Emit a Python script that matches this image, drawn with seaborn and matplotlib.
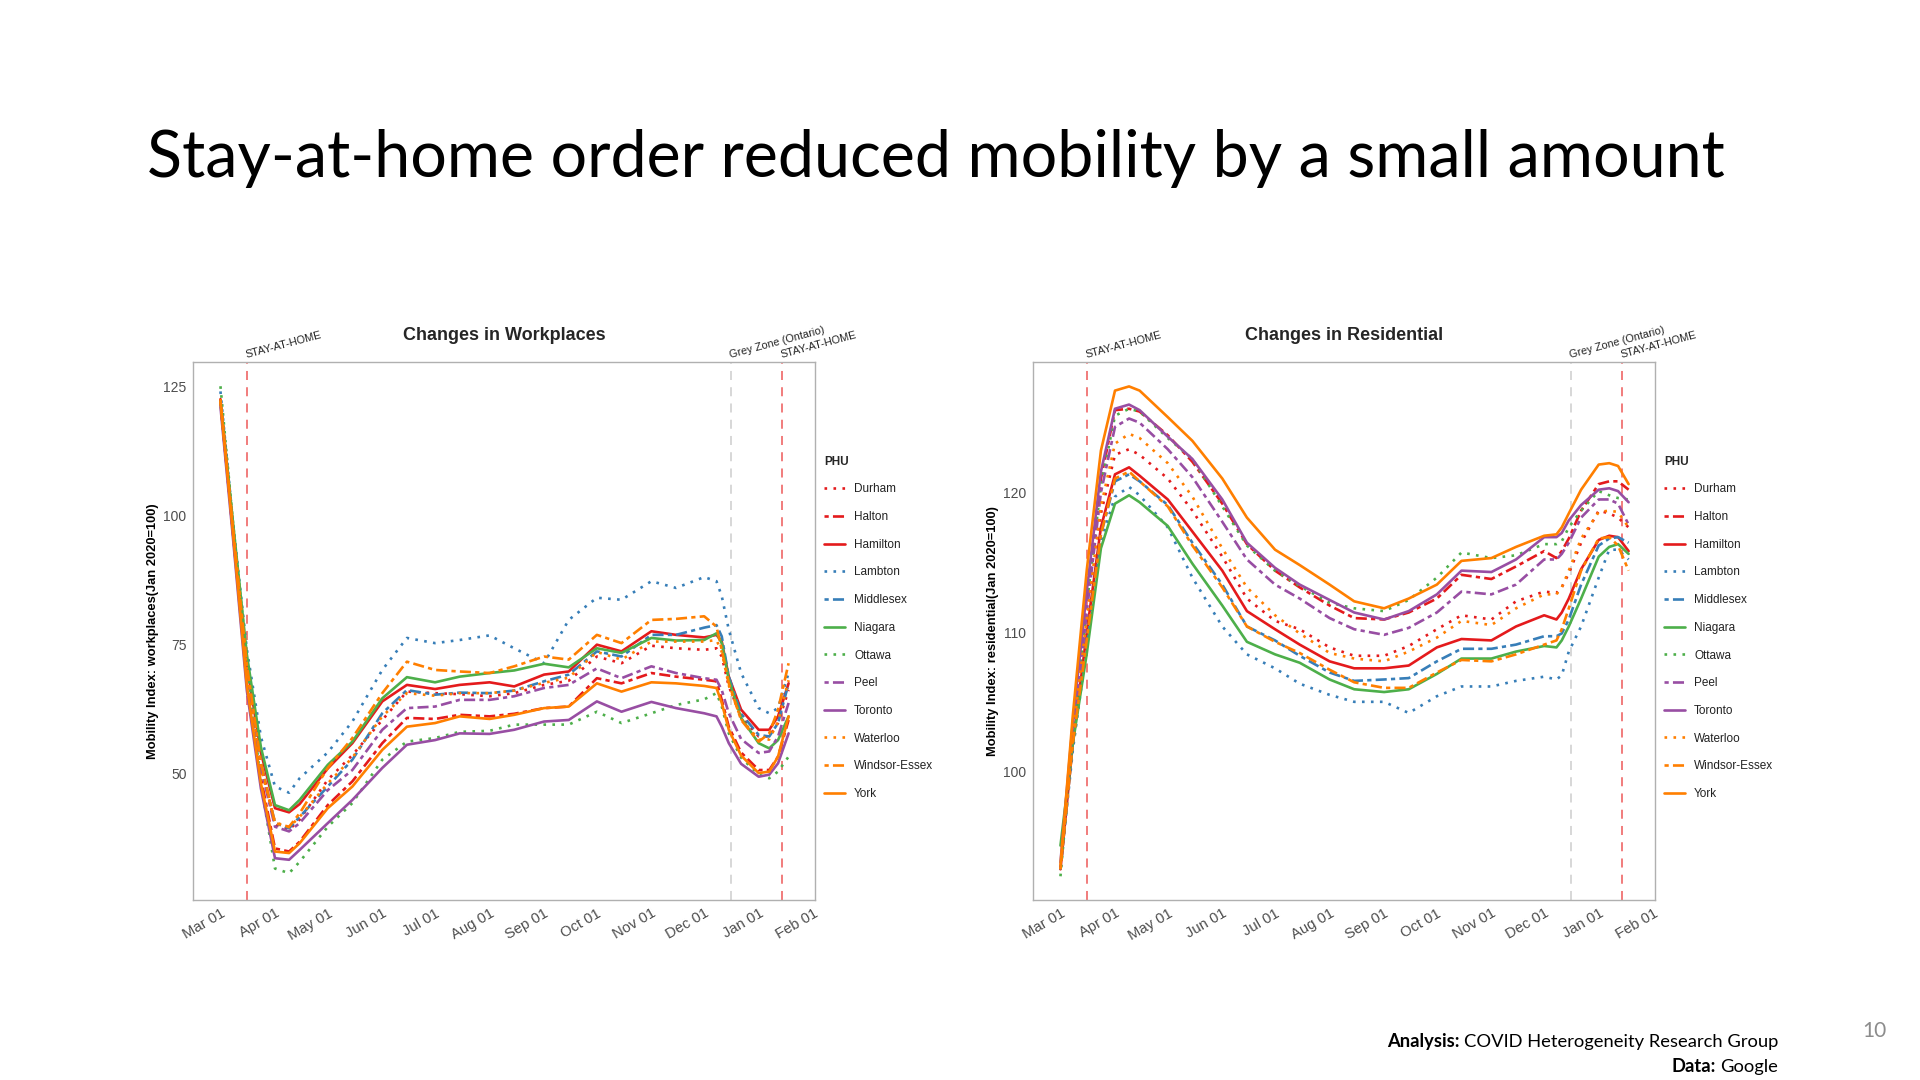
import matplotlib
matplotlib.use("Agg")
import matplotlib.pyplot as plt
import matplotlib.dates as mdates
import pandas as pd
import seaborn as sns

# ---------------- data ----------------
dates = ["2020-03-01", "2020-03-08", "2020-03-16", "2020-03-24", "2020-04-01", "2020-04-09",
         "2020-04-15", "2020-05-01", "2020-05-15", "2020-06-01", "2020-06-15", "2020-07-01",
         "2020-07-15", "2020-08-01", "2020-08-15", "2020-09-01", "2020-09-15", "2020-10-01",
         "2020-10-15", "2020-11-01", "2020-11-15", "2020-12-01", "2020-12-08", "2020-12-11",
         "2020-12-15", "2020-12-22", "2021-01-01", "2021-01-07", "2021-01-12", "2021-01-18"]

phus = ["Durham", "Halton", "Hamilton", "Lambton", "Middlesex", "Niagara", "Ottawa",
        "Peel", "Toronto", "Waterloo", "Windsor-Essex", "York"]

# Workplaces mobility index
wp_durham   = [122.5, 98, 70, 52, 40.0, 39.0, 41.0, 48.7, 53.5, 60.3, 65.8, 65.5, 65.3, 64.9, 65.5, 67.1, 67.9, 72.6, 71.3, 74.7, 74.2, 73.9, 74.2, 72.6, 66.8, 61.0, 57.1, 57.1, 59.7, 66.1]
wp_halton   = [122.0, 97, 68, 49, 35.4, 34.8, 36.7, 43.8, 48.4, 55.8, 60.7, 60.5, 61.3, 61.0, 61.5, 62.6, 62.9, 68.4, 67.4, 69.4, 68.7, 68.1, 67.8, 64.2, 59.0, 54.0, 50.6, 50.6, 53.2, 60.3]
wp_hamilton = [122.5, 98, 71, 54, 43.2, 42.4, 44.0, 50.9, 55.8, 63.9, 67.1, 66.3, 67.1, 67.6, 66.8, 69.1, 69.7, 74.9, 73.6, 77.5, 76.8, 76.3, 76.8, 75.5, 68.7, 62.3, 58.4, 58.4, 61.0, 67.4]
wp_lambton  = [124.0, 99, 74, 57, 47.4, 46.2, 49.0, 54.0, 60.0, 70.0, 76.2, 75.2, 75.8, 76.7, 74.2, 71.3, 79.7, 84.0, 83.6, 87.2, 85.9, 88.0, 87.2, 84.3, 77.8, 69.4, 62.6, 61.6, 62.6, 69.4]
wp_middlesex= [122.0, 98, 70, 52, 40.3, 39.3, 41.5, 47.4, 52.6, 61.6, 66.1, 65.2, 65.6, 65.5, 66.0, 67.8, 69.1, 73.6, 72.6, 76.8, 76.8, 78.2, 78.7, 76.5, 68.7, 61.5, 57.4, 57.1, 59.7, 67.4]
wp_niagara  = [122.0, 99, 73, 55, 43.8, 42.8, 44.8, 51.6, 56.1, 64.5, 68.6, 67.6, 68.7, 69.4, 69.9, 71.2, 70.5, 74.2, 73.3, 76.2, 75.7, 75.8, 77.1, 75.2, 68.1, 60.7, 55.8, 54.8, 56.4, 61.0]
wp_ottawa   = [125.0, 99, 72, 48, 31.5, 30.6, 32.8, 39.6, 44.2, 52.6, 56.1, 56.8, 58.0, 58.2, 59.4, 59.4, 59.4, 61.9, 59.7, 61.6, 63.2, 64.3, 65.5, 62.9, 57.7, 53.0, 49.7, 49.0, 50.3, 53.2]
wp_peel     = [122.0, 97, 69, 51, 39.6, 38.7, 40.3, 46.7, 50.6, 58.4, 62.6, 62.9, 64.2, 64.2, 64.9, 66.5, 67.1, 70.3, 68.4, 70.7, 69.4, 68.4, 68.1, 66.1, 61.6, 56.6, 53.9, 54.2, 57.1, 63.6]
wp_toronto  = [121.0, 96, 66, 47, 33.5, 33.2, 35.1, 40.3, 44.8, 51.0, 55.5, 56.4, 57.7, 57.6, 58.4, 60.0, 60.3, 63.9, 61.9, 63.8, 62.6, 61.6, 61.0, 59.0, 55.8, 51.8, 49.3, 49.7, 51.9, 57.7]
wp_waterloo = [122.5, 98, 70, 51, 40.5, 39.5, 41.5, 48.0, 53.0, 61.0, 65.5, 65.0, 65.5, 65.5, 66.0, 67.5, 68.5, 73.5, 72.0, 75.5, 75.5, 75.5, 75.8, 73.5, 67.0, 60.5, 56.5, 56.5, 60.0, 68.0]
wp_windsor  = [122.0, 98, 71, 52, 40.3, 39.6, 42.2, 51.0, 56.8, 65.5, 71.6, 70.0, 69.7, 69.4, 70.7, 72.6, 72.0, 76.8, 75.2, 79.7, 79.9, 80.4, 78.4, 73.9, 67.4, 60.3, 56.1, 57.7, 62.3, 71.3]
wp_york     = [122.0, 97, 67, 48, 34.8, 34.5, 36.4, 43.2, 47.4, 54.5, 59.0, 59.7, 61.0, 60.5, 61.3, 62.6, 62.9, 67.4, 65.8, 67.6, 67.4, 66.9, 66.5, 63.6, 58.4, 53.4, 50.0, 50.3, 53.2, 61.0]

# Residential mobility index
rs_durham   = [93.0, 102.5, 110.5, 118.5, 122.7, 123.1, 122.7, 121.0, 118.7, 115.4, 112.4, 110.8, 110.2, 108.9, 108.3, 108.3, 109.0, 110.2, 111.2, 110.9, 112.2, 112.9, 112.8, 113.2, 114.2, 116.4, 118.7, 118.5, 118.2, 117.5]
rs_halton   = [93.0, 103.0, 112.5, 121.0, 125.9, 126.0, 125.8, 124.1, 122.2, 119.2, 116.3, 114.4, 113.2, 111.9, 111.0, 110.9, 111.4, 112.4, 114.1, 113.8, 114.7, 115.8, 115.3, 115.8, 116.7, 118.7, 120.6, 120.8, 120.8, 120.2]
rs_hamilton = [93.0, 102.0, 110.0, 117.5, 121.3, 121.8, 121.2, 119.5, 117.2, 114.4, 111.5, 110.2, 109.1, 107.9, 107.4, 107.4, 107.6, 108.9, 109.5, 109.4, 110.4, 111.2, 110.9, 111.4, 112.4, 114.5, 116.6, 116.9, 116.8, 115.8]
rs_lambton  = [93.0, 101.5, 109.0, 116.5, 119.7, 120.4, 119.8, 117.5, 113.9, 110.4, 108.4, 107.4, 106.3, 105.5, 105.0, 105.0, 104.2, 105.4, 106.1, 106.1, 106.5, 106.8, 106.6, 106.9, 108.6, 110.4, 113.9, 115.9, 115.9, 115.2]
rs_middlesex= [93.0, 102.0, 109.5, 117.0, 120.8, 121.3, 120.8, 119.1, 116.4, 113.4, 110.4, 109.4, 108.3, 107.1, 106.5, 106.6, 106.7, 107.9, 108.8, 108.8, 109.1, 109.7, 109.7, 109.9, 110.9, 113.4, 116.2, 116.7, 116.8, 116.4]
rs_niagara  = [94.7, 102.0, 108.5, 116.0, 119.2, 119.8, 119.3, 117.6, 114.9, 111.9, 109.3, 108.4, 107.8, 106.6, 105.9, 105.7, 105.9, 107.0, 108.1, 108.1, 108.6, 109.0, 108.9, 109.4, 110.4, 112.4, 115.4, 116.1, 116.3, 115.6]
rs_ottawa   = [92.5, 102.5, 112.0, 120.5, 125.5, 126.0, 125.8, 123.9, 122.4, 119.0, 116.2, 114.4, 113.3, 112.1, 111.7, 111.5, 112.3, 113.9, 115.7, 115.3, 115.5, 116.3, 116.3, 116.5, 117.5, 118.7, 120.1, 119.8, 119.6, 119.5]
rs_peel     = [93.0, 102.5, 111.5, 120.0, 124.7, 125.3, 125.0, 123.1, 121.1, 117.9, 115.2, 113.4, 112.4, 111.0, 110.2, 109.8, 110.3, 111.4, 112.9, 112.7, 113.4, 115.2, 115.2, 115.6, 116.4, 118.2, 119.5, 119.5, 119.2, 117.7]
rs_toronto  = [93.5, 103.5, 113.0, 121.5, 126.0, 126.3, 125.9, 124.0, 122.4, 119.5, 116.4, 114.6, 113.4, 112.3, 111.4, 110.9, 111.5, 112.7, 114.4, 114.3, 115.2, 116.8, 116.8, 117.1, 118.0, 119.1, 120.2, 120.3, 120.1, 119.3]
rs_waterloo = [93.0, 102.5, 111.0, 119.0, 123.5, 124.2, 123.9, 122.1, 119.7, 116.0, 113.2, 111.2, 109.9, 108.5, 108.1, 107.9, 108.6, 109.6, 110.8, 110.5, 111.7, 112.7, 112.7, 113.2, 114.4, 116.7, 118.6, 118.7, 118.6, 117.5]
rs_windsor  = [93.0, 102.0, 109.5, 117.0, 121.0, 121.5, 120.8, 119.0, 116.2, 113.2, 110.4, 109.3, 108.5, 107.3, 106.4, 106.0, 106.0, 107.1, 108.0, 107.9, 108.4, 109.1, 109.4, 110.2, 111.7, 114.4, 116.7, 116.8, 116.2, 114.4]
rs_york     = [93.3, 104.0, 114.5, 123.0, 127.3, 127.6, 127.3, 125.4, 123.7, 121.0, 118.2, 115.9, 114.8, 113.4, 112.2, 111.7, 112.4, 113.4, 115.1, 115.3, 116.1, 116.9, 117.0, 117.5, 118.5, 120.2, 122.0, 122.1, 121.9, 120.6]

event_dates = ["2020-03-16", "2020-12-16", "2021-01-14"]
event_labels = ["STAY-AT-HOME", "Grey Zone (Ontario)", "STAY-AT-HOME"]
month_ticks = pd.date_range("2020-03-01", "2021-02-01", freq="MS")

wp_tick_values = [50, 75, 100, 125]
rs_tick_values = [100, 110, 120]

# ---------------- assemble ----------------
wp_series = [wp_durham, wp_halton, wp_hamilton, wp_lambton, wp_middlesex, wp_niagara,
             wp_ottawa, wp_peel, wp_toronto, wp_waterloo, wp_windsor, wp_york]
rs_series = [rs_durham, rs_halton, rs_hamilton, rs_lambton, rs_middlesex, rs_niagara,
             rs_ottawa, rs_peel, rs_toronto, rs_waterloo, rs_windsor, rs_york]


def long_frame(series_list):
    rows = []
    for name, vals in zip(phus, series_list):
        for d, v in zip(dates, vals):
            rows.append({"date": pd.Timestamp(d), "value": v, "PHU": name})
    return pd.DataFrame(rows)


df_wp = long_frame(wp_series)
df_rs = long_frame(rs_series)

RED, BLUE, GREEN, PURPLE, ORANGE = "#E41A1C", "#377EB8", "#4DAF4A", "#984EA3", "#FF7F00"
palette = {"Durham": RED, "Halton": RED, "Hamilton": RED,
           "Lambton": BLUE, "Middlesex": BLUE,
           "Niagara": GREEN, "Ottawa": GREEN,
           "Peel": PURPLE, "Toronto": PURPLE,
           "Waterloo": ORANGE, "Windsor-Essex": ORANGE, "York": ORANGE}
DOT = (1, 2.4)
TWODASH = (1.6, 1.6, 4.2, 1.6)
SOLID = ""
dashes = {"Durham": DOT, "Halton": TWODASH, "Hamilton": SOLID,
          "Lambton": DOT, "Middlesex": TWODASH, "Niagara": SOLID,
          "Ottawa": DOT, "Peel": TWODASH, "Toronto": SOLID,
          "Waterloo": DOT, "Windsor-Essex": TWODASH, "York": SOLID}

# ---------------- figure ----------------
sns.set_style("white")
plt.rcParams["font.family"] = ["Liberation Sans", "DejaVu Sans"]

fig = plt.figure(figsize=(19.2, 10.8), dpi=100)
ax_w = fig.add_axes([0.10036, 0.16667, 0.32411, 0.49815])
ax_r = fig.add_axes([0.53786, 0.16667, 0.32411, 0.49815])

TICK_GREY = "#4d4d4d"
FRAME = "#b0b0b0"


def draw_panel(ax, df, title, ylabel, ylim, yticks):
    sns.lineplot(data=df, x="date", y="value", hue="PHU", style="PHU",
                 hue_order=phus, style_order=phus, palette=palette, dashes=dashes,
                 linewidth=1.9, ax=ax, legend="full", sort=True)
    ax.set_xlim(pd.Timestamp("2020-02-14 05:00"), pd.Timestamp("2021-02-02"))
    ax.set_ylim(*ylim)
    ax.set_yticks(yticks)
    ax.set_xticks(month_ticks)
    ax.xaxis.set_major_formatter(mdates.DateFormatter("%b %d"))
    ax.tick_params(axis="both", which="major", length=3, width=0.8, color=FRAME,
                   labelsize=10, labelcolor=TICK_GREY, pad=1.5)
    ax.tick_params(axis="x", labelsize=10.6)
    for lab in ax.get_xticklabels():
        lab.set_rotation(30)
        lab.set_ha("right")
        lab.set_rotation_mode("anchor")
    ax.set_xlabel("")
    ax.set_ylabel(ylabel, fontsize=9.3, fontweight="bold", color="black", labelpad=3)
    ax.set_title(title, fontsize=13, fontweight="bold", pad=16)
    for sp in ax.spines.values():
        sp.set_visible(True)
        sp.set_color(FRAME)
        sp.set_linewidth(1.0)
    ax.grid(False)
    # event lines
    for d, lab in zip(event_dates, event_labels):
        grey = lab.startswith("Grey")
        ax.axvline(pd.Timestamp(d), color="#d4d4d4" if grey else "#f07272",
                   linestyle=(0, (5, 4)), linewidth=1.3, zorder=0.5)
        ax.text(mdates.date2num(pd.Timestamp(d)), 1.004, lab,
                transform=ax.get_xaxis_transform(), rotation=15,
                rotation_mode="anchor", ha="left", va="bottom",
                fontsize=7.8, color="#222222", clip_on=False)
    sns.move_legend(ax, "upper left", bbox_to_anchor=(1.0145, 0.826), frameon=False,
                    title="PHU", fontsize=8.5, title_fontsize=8.5, alignment="left",
                    borderaxespad=0, borderpad=0, handlelength=1.75,
                    handletextpad=0.8, labelspacing=1.33)
    leg = ax.get_legend()
    leg.get_title().set_fontweight("bold")
    for txt in leg.get_texts():
        txt.set_color("#222222")
    for ln in leg.get_lines():
        ln.set_linewidth(1.9)


draw_panel(ax_w, df_wp, "Changes in Workplaces",
           "Mobility Index: workplaces(Jan 2020=100)", (25.4, 129.7), wp_tick_values)
draw_panel(ax_r, df_rs, "Changes in Residential",
           "Mobility Index: residential(Jan 2020=100)", (90.8, 129.35), rs_tick_values)

# slide title and footer
SLIDE_FONT = ["Lato", "DejaVu Sans"]
fig.text(147 / 1920, 1 - 159 / 1080, "Stay-at-home order reduced mobility by a small amount",
         fontsize=46.5, family=SLIDE_FONT, ha="left", va="center", color="black")

renderer = fig.canvas.get_renderer()
foot_x = 1778 / 1920
for y_px, bold_part, rest in [(1042, "Analysis:", "COVID Heterogeneity Research Group"),
                              (1067, "Data:", "Google")]:
    t_rest = fig.text(foot_x, 1 - y_px / 1080, rest, fontsize=13.2, family=SLIDE_FONT,
                      ha="right", va="center", color="black")
    bb = t_rest.get_window_extent(renderer)
    fig.text((bb.x0 - 4) / 1920, 1 - y_px / 1080, bold_part, fontsize=13.2,
             family=SLIDE_FONT, fontweight="bold", ha="right", va="center", color="black")

fig.text(1874 / 1920, 1 - 1031 / 1080, "10", fontsize=15,
         family=SLIDE_FONT, ha="center", va="center", color="#8c8c8c")

fig.savefig("out.png", dpi=100)
